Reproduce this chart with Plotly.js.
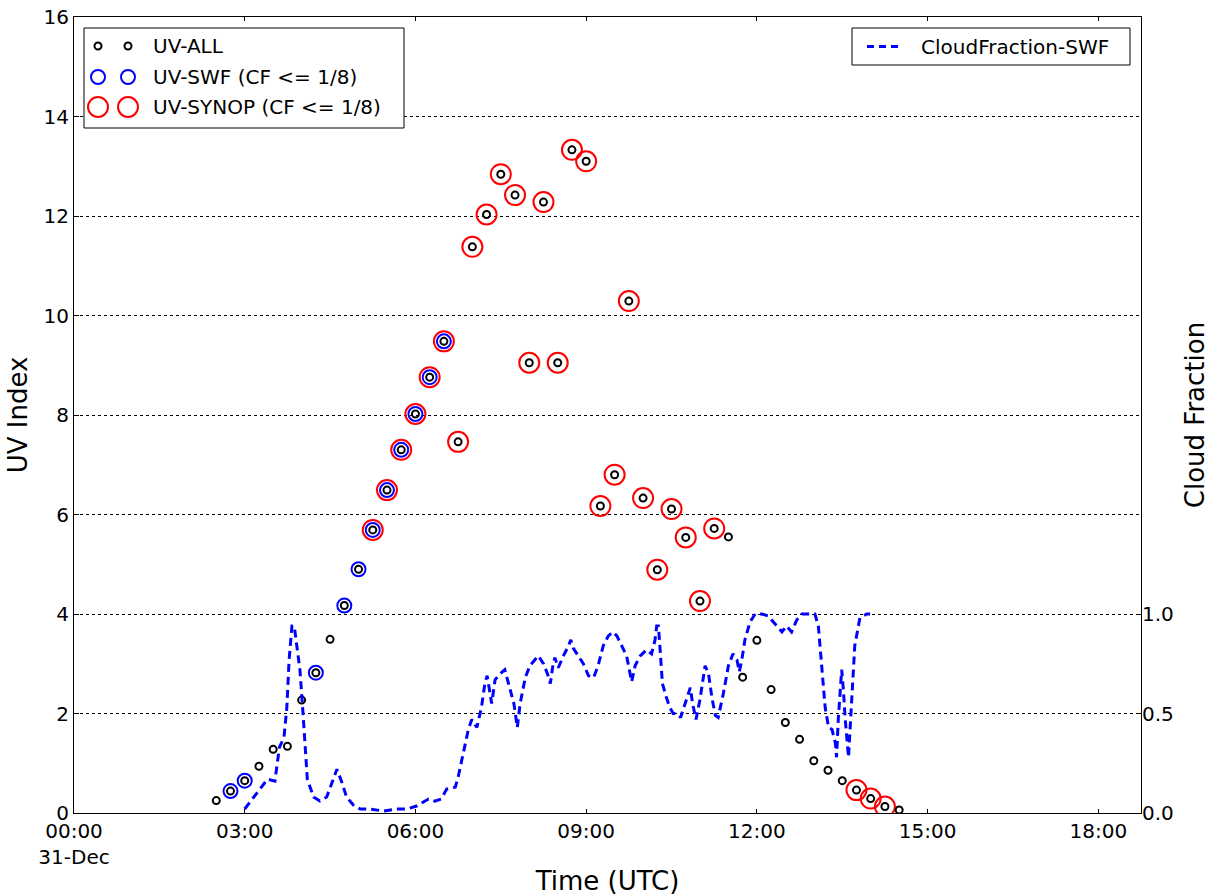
<!DOCTYPE html>
<html>
<head>
<meta charset="utf-8">
<script src="https://cdn.plot.ly/plotly-3.0.1.min.js"></script>
<style>html,body{margin:0;padding:0;background:#fff;}#chart{width:1218px;height:896px;}</style>
</head>
<body>
<div id="chart"></div>
<script>
// ---- Data (times in hours UTC, 31-Dec) ----
var uvAllHours = [2.5,2.75,3.0,3.25,3.5,3.75,4.0,4.25,4.5,4.75,5.0,5.25,5.5,5.75,6.0,6.25,6.5,6.75,7.0,7.25,7.5,7.75,8.0,8.25,8.5,8.75,9.0,9.25,9.5,9.75,10.0,10.25,10.5,10.75,11.0,11.25,11.5,11.75,12.0,12.25,12.5,12.75,13.0,13.25,13.5,13.75,14.0,14.25,14.5];
var uvAllValues = [0.25,0.44,0.65,0.94,1.28,1.34,2.27,2.82,3.49,4.17,4.90,5.69,6.49,7.30,8.02,8.76,9.48,7.46,11.38,12.03,12.84,12.42,9.05,12.28,9.05,13.33,13.10,6.17,6.80,10.29,6.33,4.89,6.11,5.54,4.26,5.72,5.55,2.73,3.47,2.48,1.82,1.48,1.05,0.86,0.65,0.46,0.29,0.13,0.06];

var uvSwfHours = [2.75,3.0,4.25,4.75,5.0,5.25,5.5,5.75,6.0,6.25,6.5];
var uvSwfValues = [0.44,0.65,2.82,4.17,4.90,5.69,6.49,7.30,8.02,8.76,9.48];

var uvSynopHours = [5.25,5.5,5.75,6.0,6.25,6.5,6.75,7.0,7.25,7.5,7.75,8.0,8.25,8.5,8.75,9.0,9.25,9.5,9.75,10.0,10.25,10.5,10.75,11.0,11.25,13.75,14.0,14.25];
var uvSynopValues = [5.69,6.49,7.30,8.02,8.76,9.48,7.46,11.38,12.03,12.84,12.42,9.05,12.28,9.05,13.33,13.10,6.17,6.80,10.29,6.33,4.89,6.11,5.54,4.26,5.72,0.46,0.29,0.13];

var cfHours = [3.00,3.21,3.40,3.53,3.61,3.69,3.74,3.78,3.83,3.87,3.92,3.97,4.02,4.06,4.10,4.21,4.32,4.44,4.56,4.62,4.70,4.79,4.91,5.03,5.20,5.44,5.67,5.85,6.02,6.23,6.34,6.45,6.55,6.70,6.75,6.84,6.93,6.99,7.08,7.16,7.22,7.26,7.31,7.34,7.40,7.49,7.57,7.66,7.73,7.79,7.84,7.93,8.01,8.16,8.25,8.32,8.37,8.42,8.45,8.51,8.60,8.69,8.73,8.77,8.86,8.95,9.04,9.13,9.21,9.30,9.39,9.47,9.54,9.62,9.71,9.80,9.86,9.95,10.06,10.15,10.21,10.24,10.27,10.30,10.34,10.41,10.47,10.53,10.60,10.66,10.74,10.83,10.87,10.93,11.00,11.09,11.15,11.21,11.27,11.32,11.41,11.50,11.58,11.65,11.69,11.73,11.79,11.88,11.97,12.09,12.20,12.32,12.44,12.52,12.61,12.70,12.79,12.87,13.02,13.08,13.14,13.20,13.26,13.32,13.38,13.40,13.43,13.49,13.52,13.55,13.61,13.67,13.72,13.81,13.93,13.99];
var cfValues = [0.02,0.10,0.17,0.16,0.33,0.38,0.53,0.77,0.94,0.94,0.84,0.72,0.52,0.32,0.17,0.08,0.06,0.08,0.17,0.22,0.16,0.08,0.04,0.02,0.02,0.01,0.02,0.02,0.035,0.07,0.06,0.07,0.12,0.13,0.18,0.30,0.42,0.47,0.43,0.53,0.65,0.69,0.61,0.55,0.67,0.70,0.72,0.63,0.55,0.43,0.55,0.68,0.74,0.79,0.75,0.70,0.65,0.75,0.78,0.73,0.79,0.84,0.87,0.83,0.79,0.75,0.69,0.68,0.74,0.84,0.89,0.91,0.89,0.84,0.79,0.66,0.74,0.79,0.82,0.80,0.87,0.94,0.94,0.82,0.65,0.58,0.53,0.50,0.50,0.48,0.55,0.63,0.55,0.47,0.57,0.74,0.70,0.58,0.49,0.48,0.60,0.74,0.80,0.77,0.71,0.76,0.87,0.96,1.0,1.0,0.99,0.95,0.91,0.94,0.91,0.97,1.0,1.0,1.0,0.94,0.74,0.53,0.43,0.42,0.35,0.28,0.47,0.72,0.62,0.48,0.28,0.57,0.84,0.98,1.0,1.0];

var xTickVals = [0,3,6,9,12,15,18];
var xTickText = ['00:00<br>31-Dec','03:00','06:00','09:00','12:00','15:00','18:00'];
var cfTickVals = [0,0.5,1.0];
var cfTickText = ['0.0','0.5','1.0'];

var legendLabels = ['UV-ALL','UV-SWF (CF <= 1/8)','UV-SYNOP (CF <= 1/8)'];
var cfLegendLabel = 'CloudFraction-SWF';

// ---- Geometry helpers for the legend (plot area in px) ----
var W = 1218, H = 896;
var M = {l:74, r:77, t:17, b:83};
var PW = W - M.l - M.r, PH = H - M.t - M.b;
function px(x){ return (x - M.l) / PW; }
function py(y){ return (H - M.b - y) / PH; }

var FONT = 'DejaVu Sans, Liberation Sans, sans-serif';

var traces = [
  {x: uvSynopHours, y: uvSynopValues, type:'scatter', mode:'markers', name: legendLabels[2],
   marker:{symbol:'circle-open', size:20, color:'#ff0000', line:{width:2, color:'#ff0000'}}, showlegend:false, hoverinfo:'skip'},
  {x: uvSwfHours, y: uvSwfValues, type:'scatter', mode:'markers', name: legendLabels[1],
   marker:{symbol:'circle-open', size:14, color:'#0000ff', line:{width:2, color:'#0000ff'}}, showlegend:false, hoverinfo:'skip'},
  {x: uvAllHours, y: uvAllValues, type:'scatter', mode:'markers', name: legendLabels[0],
   marker:{symbol:'circle-open', size:7, color:'#000000', line:{width:2, color:'#000000'}}, showlegend:false, hoverinfo:'skip'},
  {x: cfHours, y: cfValues, type:'scatter', mode:'lines', name: cfLegendLabel, yaxis:'y2',
   line:{color:'#0000ff', width:3, dash:'8px,5px'}, showlegend:false, hoverinfo:'skip'},
  // invisible helper trace so that the top tick axis is drawn
  {x: [0], y: [0], xaxis:'x2', type:'scatter', mode:'markers', marker:{opacity:0}, showlegend:false, hoverinfo:'skip'}
];

var shapes = [];
var annotations = [];

// Left legend box
shapes.push({type:'rect', xref:'paper', yref:'paper', x0:px(84), x1:px(404), y0:py(128), y1:py(28),
  fillcolor:'#ffffff', line:{color:'#000000', width:1}, layer:'above'});
var rowsY = [46, 77, 107];
var rowStyle = [{c:'#000000', r:3.5},{c:'#0000ff', r:7},{c:'#ff0000', r:10}];
for (var i=0;i<3;i++){
  [98,128].forEach(function(cx){
    shapes.push({type:'circle', xref:'paper', yref:'paper', xsizemode:'pixel', ysizemode:'pixel',
      xanchor:px(cx), yanchor:py(rowsY[i]), x0:-rowStyle[i].r, x1:rowStyle[i].r, y0:-rowStyle[i].r, y1:rowStyle[i].r,
      line:{color:rowStyle[i].c, width:2}, fillcolor:'rgba(0,0,0,0)', layer:'above'});
  });
  annotations.push({xref:'paper', yref:'paper', x:px(151), y:py(rowsY[i]), xanchor:'left', yanchor:'middle',
    text:legendLabels[i], showarrow:false, font:{family:FONT, size:20, color:'#000000'}});
}
// Right legend box
shapes.push({type:'rect', xref:'paper', yref:'paper', x0:px(852), x1:px(1130), y0:py(65), y1:py(28),
  fillcolor:'#ffffff', line:{color:'#000000', width:1}, layer:'above'});
shapes.push({type:'line', xref:'paper', yref:'paper', x0:px(867), x1:px(898), y0:py(46.5), y1:py(46.5),
  line:{color:'#0000ff', width:3, dash:'7px,5px'}, layer:'above'});
annotations.push({xref:'paper', yref:'paper', x:px(919), y:py(46.5), xanchor:'left', yanchor:'middle',
  text:cfLegendLabel, showarrow:false, font:{family:FONT, size:20, color:'#000000'}});

var layout = {
  width:W, height:H,
  margin:{l:M.l, r:M.r, t:M.t, b:M.b, pad:0},
  paper_bgcolor:'#ffffff', plot_bgcolor:'#ffffff',
  font:{family:FONT, size:20, color:'#000000'},
  showlegend:false,
  xaxis:{range:[0,18.75], tickmode:'array', tickvals:xTickVals, ticktext:xTickText,
    ticks:'inside', ticklen:4, tickwidth:1, tickcolor:'#000000',
    showline:true, linecolor:'#000000', linewidth:1, mirror:true,
    showgrid:false, zeroline:false, tickfont:{family:FONT, size:20},
    title:{text:'Time (UTC)', font:{family:FONT, size:26}, standoff:6}, automargin:false},
  xaxis2:{range:[0,18.75], overlaying:'x', side:'top', anchor:'y', tickmode:'array', tickvals:xTickVals,
    showticklabels:false, ticks:'inside', ticklen:4, tickwidth:1, tickcolor:'#000000',
    showline:false, showgrid:false, zeroline:false, automargin:false},
  yaxis:{range:[0,16], dtick:2, tick0:0,
    ticks:'inside', ticklen:5, tickwidth:1, tickcolor:'#000000',
    showline:true, linecolor:'#000000', linewidth:1, mirror:true,
    showgrid:true, gridcolor:'#000000', gridwidth:1, griddash:'dot', zeroline:false,
    tickfont:{family:FONT, size:20},
    title:{text:'UV Index', font:{family:FONT, size:26}, standoff:8}, automargin:false},
  yaxis2:{range:[0,4], overlaying:'y', side:'right', tickmode:'array', tickvals:cfTickVals, ticktext:cfTickText,
    ticks:'inside', ticklen:5, tickwidth:1, tickcolor:'#000000',
    showline:false, showgrid:false, zeroline:false, tickfont:{family:FONT, size:20},
    title:{text:'Cloud Fraction', font:{family:FONT, size:26}, standoff:12}, automargin:false},
  shapes:shapes,
  annotations:annotations
};

Plotly.newPlot('chart', traces, layout, {staticPlot:true, displayModeBar:false});
</script>
</body>
</html>
